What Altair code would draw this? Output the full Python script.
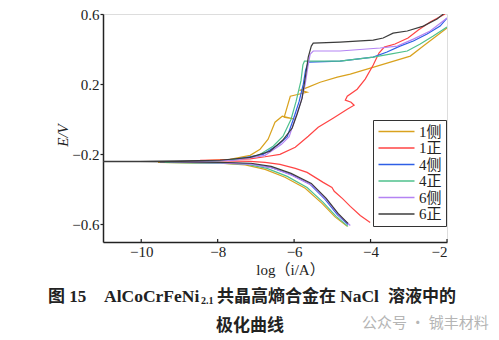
import altair as alt
import pandas as pd

series = ["1侧", "1正", "4侧", "4正", "6侧", "6正"]
colors = ["#D9A21E", "#FF4444", "#2E5FE6", "#4FC08D", "#B483F3", "#3C3C3C"]

x_1c = [-4.61, -4.93, -5.27, -5.71, -6.24, -6.76, -7.28, -7.94, -8.72, -9.56,
        -8.72, -7.68, -7.15, -6.89, -6.68, -6.50, -6.31, -5.97, -6.26, -6.10,
        -5.66, -5.84, -5.63, -5.32, -4.87, -4.53, -3.83, -2.96, -2.62, -2.31, -2.00]
e_1c = [-0.611, -0.557, -0.48, -0.394, -0.331, -0.286, -0.26, -0.251, -0.249, -0.246,
        -0.24, -0.229, -0.206, -0.171, -0.114, -0.017, 0.017, 0.0, 0.011, 0.131,
        0.154, 0.166, 0.183, 0.211, 0.24, 0.257, 0.303, 0.36, 0.417, 0.469, 0.52]

x_1z = [-4.01, -4.27, -4.53, -4.74, -4.95, -5.01, -5.24, -5.66, -5.97, -6.37, -6.76, -7.15, -7.81, -8.46,
        -7.81, -7.15, -6.76, -6.37, -5.97, -5.63, -5.37, -4.98, -4.61, -4.43, -4.51, -4.66, -4.61,
        -4.35, -4.14, -3.93, -3.78, -3.64, -3.36, -3.02, -2.75, -2.44, -2.05]
e_1z = [-0.589, -0.549, -0.497, -0.451, -0.411, -0.389, -0.36, -0.303, -0.28, -0.257, -0.246, -0.24, -0.237, -0.234,
        -0.231, -0.226, -0.214, -0.20, -0.16, -0.097, -0.046, 0.006, 0.057, 0.08, 0.097, 0.109, 0.131,
        0.171, 0.229, 0.309, 0.377, 0.411, 0.429, 0.463, 0.509, 0.554, 0.60]

x_4c = [-4.59, -4.87, -5.19, -5.58, -6.10, -6.63, -7.15, -7.94, -8.72, -9.51,
        -8.72, -7.68, -6.81, -6.40, -6.18, -6.02, -5.87, -5.76, -5.70, -5.63,
        -4.80, -3.93, -3.57, -3.23, -2.88, -2.52, -2.18, -2.00]
e_4c = [-0.60, -0.543, -0.457, -0.371, -0.314, -0.274, -0.254, -0.249, -0.246, -0.243,
        -0.24, -0.234, -0.20, -0.143, -0.10, 0.0, 0.10, 0.20, 0.28, 0.326,
        0.331, 0.354, 0.383, 0.417, 0.446, 0.486, 0.531, 0.577]

x_4z = [-4.59, -4.90, -5.24, -5.66, -6.18, -6.71, -7.23, -7.94, -8.72, -9.38,
        -8.72, -7.68, -6.97, -6.55, -6.29, -6.08, -5.95, -5.82, -5.77, -5.73,
        -4.80, -3.93, -3.49, -3.04, -2.70, -2.36, -2.00]
e_4z = [-0.611, -0.554, -0.474, -0.389, -0.326, -0.28, -0.257, -0.251, -0.249, -0.246,
        -0.243, -0.234, -0.211, -0.154, -0.097, 0.0, 0.10, 0.22, 0.31, 0.331,
        0.331, 0.354, 0.371, 0.389, 0.429, 0.474, 0.526]

x_6c = [-4.53, -4.82, -5.14, -5.53, -6.05, -6.58, -7.10, -7.94, -8.72, -9.25,
        -8.46, -7.54, -6.76, -6.33, -6.13, -5.98, -5.82, -5.71, -5.64, -5.58, -5.50,
        -4.80, -3.75, -3.30, -2.88, -2.44, -2.10, -2.00]
e_6c = [-0.606, -0.549, -0.463, -0.377, -0.32, -0.277, -0.257, -0.249, -0.246, -0.243,
        -0.24, -0.234, -0.206, -0.143, -0.10, 0.0, 0.10, 0.20, 0.30, 0.371, 0.389,
        0.389, 0.406, 0.417, 0.457, 0.503, 0.56, 0.577]

x_6z = [-4.59, -4.85, -5.16, -5.55, -6.08, -6.60, -7.13, -7.94, -8.98, -10.03, -11.3,
        -10.03, -8.98, -7.94, -7.15, -6.63, -6.30, -6.05, -5.92, -5.79, -5.70, -5.63, -5.55, -5.50,
        -4.80, -3.93, -3.67, -3.41, -3.04, -2.62, -2.26, -2.00]
e_6z = [-0.594, -0.537, -0.451, -0.366, -0.309, -0.269, -0.251, -0.246, -0.243, -0.242, -0.241,
        -0.240, -0.237, -0.234, -0.217, -0.183, -0.12, -0.05, 0.03, 0.12, 0.25, 0.354, 0.417, 0.434,
        0.44, 0.451, 0.463, 0.491, 0.503, 0.531, 0.571, 0.617]

x_ticks = [-10, -8, -6, -4, -2]
y_ticks = [-0.6, -0.2, 0.2, 0.6]

all_x = [x_1c, x_1z, x_4c, x_4z, x_6c, x_6z]
all_e = [e_1c, e_1z, e_4c, e_4z, e_6c, e_6z]

rows = []
for name, xs, es in zip(series, all_x, all_e):
    for k, (a, b) in enumerate(zip(xs, es)):
        rows.append({"s": name, "logi": a, "E": b, "k": k})
df = pd.DataFrame(rows)

W, H = 344, 228
LEFT, TOP = 103, 14
SERIF = "Liberation Serif, Noto Sans CJK SC"

xscale = alt.Scale(domain=[-11, -2], nice=False, zero=False)
yscale = alt.Scale(domain=[-0.7, 0.6], nice=False, zero=False)

lines = alt.Chart(df).mark_line(strokeWidth=1.2, clip=True).encode(
    x=alt.X("logi:Q", scale=xscale,
            axis=alt.Axis(values=x_ticks, format="d", ticks=False, grid=False,
                          labelFont=SERIF, labelFontSize=15, labelColor="#222",
                          labelPadding=2, domainColor="#222", domainWidth=1.5,
                          title="log（i/A）", titleFont=SERIF, titleFontSize=15,
                          titleFontWeight="normal", titleColor="#222",
                          titleX=187, titleY=27, titleBaseline="middle")),
    y=alt.Y("E:Q", scale=yscale,
            axis=alt.Axis(values=y_ticks, format=".1f", grid=False, tickSize=3,
                          tickColor="#222", tickWidth=1.2,
                          labelFont=SERIF, labelFontSize=15, labelColor="#222",
                          labelPadding=1, domainColor="#222", domainWidth=1.5,
                          title="E/V", titleFont=SERIF, titleFontSize=15,
                          titleFontStyle="italic", titleFontWeight="normal",
                          titleColor="#222", titleX=-41, titleY=121,
                          titleBaseline="middle", titleAngle=270)),
    color=alt.Color("s:N", scale=alt.Scale(domain=series, range=colors),
                    legend=alt.Legend(orient="none", legendX=270, legendY=106, title=None,
                                      symbolType="M-1,0H5", symbolSize=144,
                                      symbolStrokeWidth=1.6, labelFont=SERIF,
                                      labelFontSize=15, labelColor="#222",
                                      strokeColor="#333", fillColor="white",
                                      padding=4, rowPadding=0.5, labelOffset=27)),
    order="k:Q",
)

tick_df = pd.DataFrame({"t": x_ticks})
xticks = alt.Chart(tick_df).mark_rule(color="#222", strokeWidth=1.2).encode(
    x=alt.X("t:Q", scale=xscale), y=alt.value(H), y2=alt.value(H - 3))


def txt(s, xa, ya, size, font, weight="bold", color="#222", style="normal"):
    return alt.Chart(pd.DataFrame({"t": [s]})).mark_text(
        align="left", baseline="middle", fontSize=size, font=font,
        fontWeight=weight, color=color, fontStyle=style
    ).encode(text="t:N", x=alt.value(xa - LEFT), y=alt.value(ya - TOP))


CJK = "Noto Sans CJK SC"
cap = [
    txt("图 15", 48, 297, 17, SERIF),
    txt("AlCoCrFeNi", 104, 297, 17.5, "Liberation Serif"),
    txt("2.1", 201, 301, 10, "Liberation Serif"),
    txt("共晶高熵合金在", 217, 297, 17, CJK),
    txt("NaCl", 340, 297, 17.5, "Liberation Serif"),
    txt("溶液中的", 388, 297, 17, CJK),
    txt("极化曲线", 216, 326, 17, CJK),
    txt("公众号 · 铖丰材料", 362, 323, 15, CJK, weight="normal", color="#b5b5b5"),
]

chart = alt.layer(lines, xticks, *cap).properties(
    width=W, height=H,
    autosize=alt.AutoSizeParams(type="none"),
    padding={"left": LEFT, "top": TOP, "right": 499 - LEFT - W, "bottom": 340 - TOP - H},
).configure_view(stroke=None).configure(background="white")

chart.save("out.html", embed_options={"renderer": "svg", "actions": False})
